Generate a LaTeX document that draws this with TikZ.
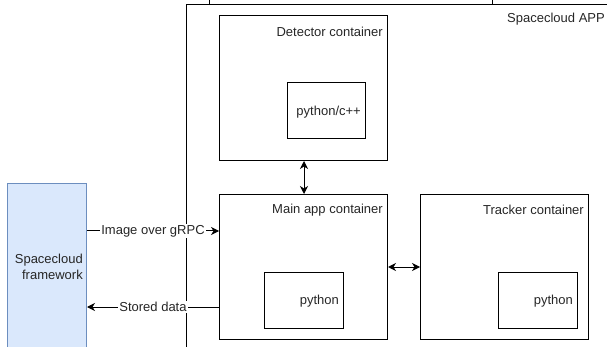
\documentclass[tikz,border=0pt]{standalone}
\usepackage{fontspec}
\setmainfont{Liberation Sans}
\usetikzlibrary{arrows.meta}
\definecolor{fwfill}{HTML}{DAE8FC}
\definecolor{fwline}{HTML}{6C8EBF}
\begin{document}
\begin{tikzpicture}[x=1pt,y=-1pt,
  box/.style={draw, line width=1pt, anchor=north west, inner sep=0pt},
  lbl/.style={font=\fontsize{13}{16}\selectfont, inner sep=0pt, text=black!85},
  arr/.style={line width=1pt, -{Stealth[length=8pt,width=8pt,inset=2.5pt]}},
  darr/.style={line width=1pt, {Stealth[length=8pt,width=8pt,inset=2.5pt]}-{Stealth[length=8pt,width=8pt,inset=2.5pt]}},
  elbl/.style={lbl, fill=white, inner sep=1pt}]
\useasboundingbox (0,0) rectangle (607,347);
\clip (0,0) rectangle (607,347);
% cropped shape above
\node[box, minimum width=283pt, minimum height=40pt] (above) at (209,-36) {};
% Spacecloud APP container
\node[box, minimum width=440pt, minimum height=400pt] (app) at (186,4) {};
\node[lbl, anchor=east] (applbl) at (605,19) {Spacecloud APP};
% framework
\node[box, draw=fwline, fill=fwfill, minimum width=79pt, minimum height=200pt] (fw) at (7,183) {};
\node[lbl, align=right, anchor=east] (fwlbl) at (83,267) {Spacecloud\\framework};
% Detector container
\node[box, minimum width=168pt, minimum height=145pt] (det) at (219,15) {};
\node[lbl, anchor=east] (detlbl) at (383,32) {Detector container};
\node[box, minimum width=78pt, minimum height=56pt] (detpy) at (287,82) {};
\node[lbl, anchor=east] (detpylbl) at (361,112) {python/c++};
% Main app container
\node[box, minimum width=168pt, minimum height=145pt] (main) at (219,194) {};
\node[lbl, anchor=east] (mainlbl) at (383,210) {Main app container};
\node[box, minimum width=79pt, minimum height=56pt] (mainpy) at (264,272) {};
\node[lbl, anchor=east] (mainpylbl) at (339,301) {python};
% Tracker container
\node[box, minimum width=168pt, minimum height=145pt] (trk) at (420,194) {};
\node[lbl, anchor=east] (trklbl) at (584,210) {Tracker container};
\node[box, minimum width=79pt, minimum height=56pt] (trkpy) at (498,272) {};
\node[lbl, anchor=east] (trkpylbl) at (573,301) {python};
% connectors
\draw[darr] (det.south -| 304,0) -- (main.north -| 304,0);
\draw[darr] (main.east |- 0,267) -- (trk.west |- 0,267);
\draw[arr] (fw.east |- 0,231) -- node[elbl] (l1) {Image over gRPC} (main.west |- 0,231);
\draw[arr] (main.west |- 0,307) -- node[elbl] (l2) {Stored data} (fw.east |- 0,307);
\end{tikzpicture}
\end{document}
